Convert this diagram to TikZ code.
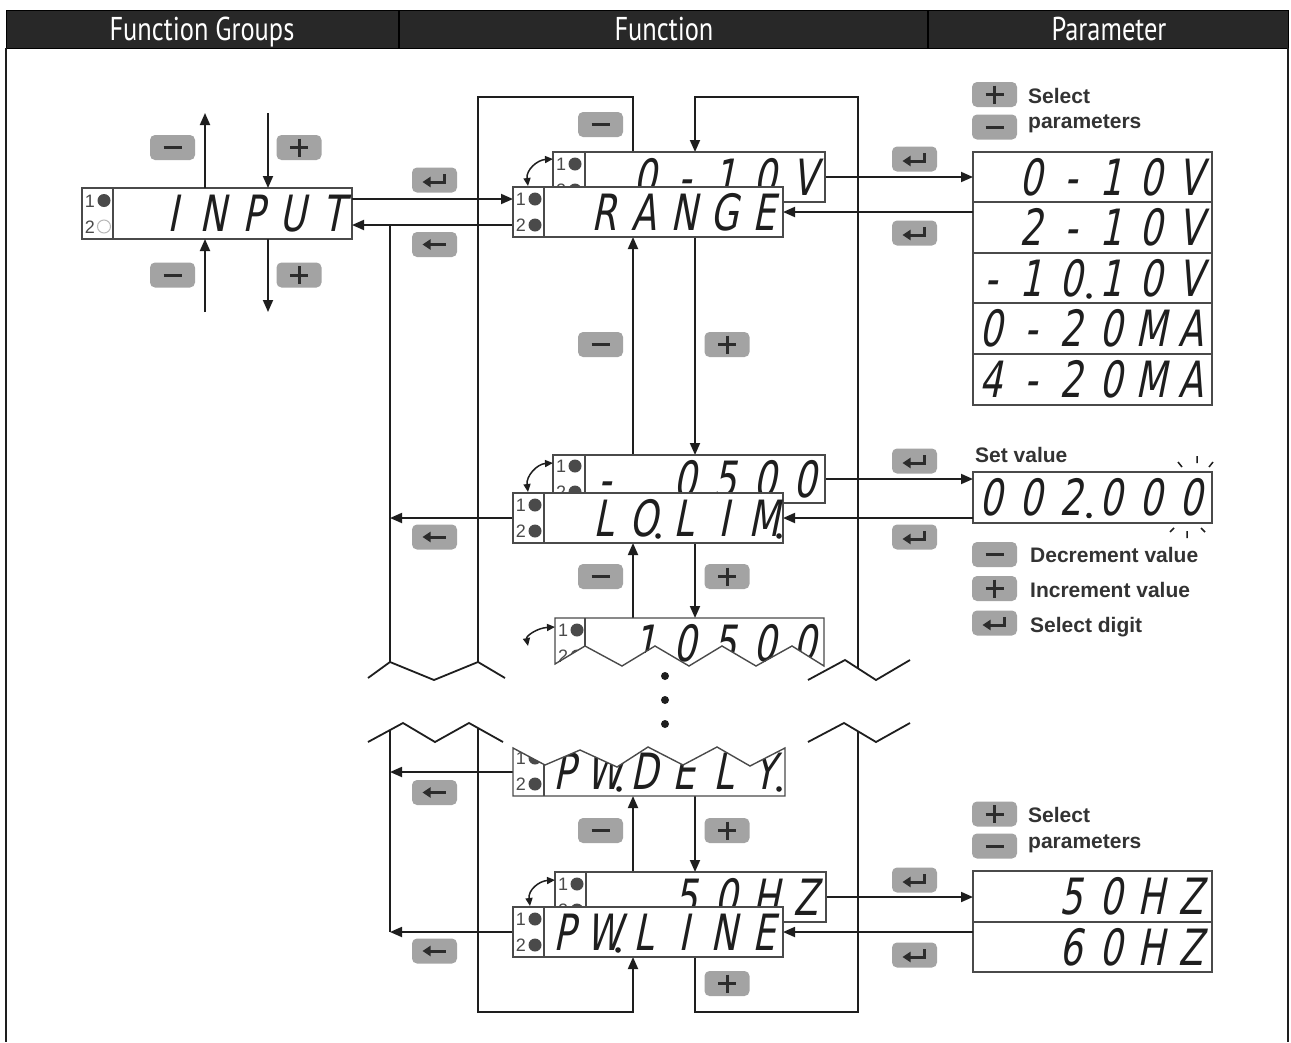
\documentclass[tikz,border=0pt]{standalone}
\usepackage{fontspec}
\setmainfont{Liberation Sans}
\newfontfamily\lcdf{DejaVu Sans}[FakeSlant=0.2,FakeStretch=0.72]
\newfontfamily\hdrf{PT Sans}[FakeStretch=0.8]
\usetikzlibrary{arrows.meta}
\definecolor{hdrc}{HTML}{282828}
\definecolor{btnc}{HTML}{A3A3A3}
\definecolor{ink}{HTML}{1E1E1E}
\definecolor{boxc}{HTML}{4A4A4A}
\definecolor{txtc}{HTML}{333333}
\definecolor{symc}{HTML}{2C2C2C}
\newcommand\btnminus[3]{\node[btnbox] (#1) at (#2,#3) {};\draw[sym] ({#2-9},#3) -- ({#2+9},#3);}
\newcommand\btnplus[3]{\node[btnbox] (#1) at (#2,#3) {};\draw[sym] ({#2-9},#3) -- ({#2+9},#3) ({#2},{#3-9}) -- ({#2},{#3+9});}
\newcommand\btnret[3]{\node[btnbox] (#1) at (#2,#3) {};\draw[symarr] ({#2+10},{#3-6}) -- ({#2+10},{#3+2}) -- ({#2-12},{#3+2});}
\newcommand\btnback[3]{\node[btnbox] (#1) at (#2,#3) {};\draw[symarr] ({#2+11},#3) -- ({#2-12},#3);}
\newcommand\lcdtext[4]{\foreach \c [count=\i] in {#4}{\node[lcdch] (#1\i) at ({#2+(\i-1)*40},{#3+18}) {\c};}}
\newcommand\lcddot[2]{\fill[ink] (#1,#2) circle (2.8pt);}
\newcommand\indic[4]{%
  \node[indt] (#1a) at ({#2+8},{#3-6.5}) {1};
  \fill[boxc] ({#2+22},{#3-13}) circle (6.5pt);
  \node[indt] (#1b) at ({#2+8},{#3+19.5}) {2};
  \path[#4] ({#2+22},{#3+13}) circle (6.5pt);}
\begin{document}
\begin{tikzpicture}[x=1pt,y=-1pt,
  conn/.style={draw=ink,line width=1.8pt},
  arr/.style={conn,-{Triangle[length=12pt,width=10pt]}},
  carr/.style={draw=ink,line width=1.5pt,{Triangle[length=8pt,width=7pt]}-{Triangle[length=8pt,width=7pt]}},
  lcdbox/.style={draw=boxc,line width=1.4pt,fill=white,inner sep=0pt,outer sep=0pt},
  boxline/.style={draw=boxc,line width=1.4pt},
  btnbox/.style={fill=btnc,rounded corners=5pt,minimum width=45pt,minimum height=25pt,inner sep=0pt,draw=none},
  sym/.style={draw=symc,line width=3pt},
  symarr/.style={sym,-{Triangle[length=8pt,width=10pt]}},
  lcdch/.style={font=\lcdf\fontsize{50}{50}\selectfont,anchor=base,inner sep=0pt,text=ink},
  indt/.style={font=\fontsize{18}{18}\selectfont,text=boxc,anchor=base,inner sep=0pt},
  lbl/.style={font=\bfseries\fontsize{21}{21}\selectfont,text=txtc,anchor=base west,inner sep=0pt},
  hdrt/.style={font=\hdrf\fontsize{33}{33}\selectfont,text=white,anchor=base,inner sep=0pt}]
\useasboundingbox (0,0) rectangle (1291,1042);
\fill[white] (0,0) rectangle (1291,1042);
% header and frame
\fill[hdrc] (6,10) rectangle (1288,48);
\draw[black,line width=1pt] (6,10) rectangle (1288,48);
\draw[black,line width=1.2pt] (399,10) -- (399,48) (928,10) -- (928,48);
\draw[ink,line width=1.5pt] (6,48) -- (6,1042) (1288,48) -- (1288,1042);
\node[hdrt] (h1) at (202,40) {Function Groups};
\node[hdrt] (h2) at (664,40) {Function};
\node[hdrt] (h3) at (1109,40) {Parameter};
% column coordinates
\coordinate (cM) at (633,0); \coordinate (cP) at (695,0);
\coordinate (cL) at (478,0); \coordinate (cR) at (858,0);
\coordinate (cB) at (390,0);
\coordinate (topY) at (0,97); \coordinate (botY) at (0,1012);
\coordinate (iM) at (205,0); \coordinate (iP) at (268,0);
\coordinate (iMt) at (205,113); \coordinate (iPt) at (268,113);
\coordinate (iMb) at (205,312); \coordinate (iPb) at (268,312);
% boxes (nodes)
\node[lcdbox,minimum width=270pt,minimum height=51pt] (inp) at (217,213.5) {};
\node[lcdbox,minimum width=272pt,minimum height=50pt] (rngp) at (689,177) {};
\node[lcdbox,minimum width=270pt,minimum height=50pt] (rng) at (648,212) {};
\node[lcdbox,minimum width=272pt,minimum height=48pt] (llp) at (689,479) {};
\node[lcdbox,minimum width=270pt,minimum height=50pt] (lol) at (648,518) {};
\node[lcdbox,minimum width=271pt,minimum height=50pt] (pwlp) at (690.5,897) {};
\node[lcdbox,minimum width=270pt,minimum height=50pt] (pwl) at (648,932) {};
\node[lcdbox,minimum width=239pt,minimum height=253pt] (par1) at (1092.5,278.5) {};
\node[lcdbox,minimum width=239pt,minimum height=51pt] (setv) at (1092.5,497.5) {};
\node[lcdbox,minimum width=239pt,minimum height=101pt] (par2) at (1092.5,921.5) {};
\coordinate (q10) at (689,618);
\coordinate (pdB) at (649,796);
\coordinate (pdL) at (513,772);
\coordinate (rngIn) at (513,199);
\coordinate (rngOut) at (513,225);
% zigzag junctions
\coordinate (zL1) at (478,662); \coordinate (zL2) at (478,728);
\coordinate (zB1) at (390,662); \coordinate (zB2) at (390,730);
\coordinate (zR1) at (858,668); \coordinate (zR2) at (858,731);
% connectors: loops
\draw[conn] (rngp.north -| cM) -- (cM |- topY) -- (cL |- topY) -- (zL1);
\draw[arr] (zL2) -- (cL |- botY) -- (cM |- botY) -- (pwl.south -| cM);
\draw[conn] (pwl.south -| cP) -- (cP |- botY) -- (cR |- botY) -- (zR2);
\draw[arr] (zR1) -- (cR |- topY) -- (cP |- topY) -- (rngp.north -| cP);
% bus to INPUT
\draw[arr] (inp.east |- rngIn) -- (rngIn);
\draw[arr] (rngOut) -- (inp.east |- rngOut);
\draw[conn] (rngOut -| cB) -- (zB1);
\draw[conn] (zB2) -- (pwl.west -| cB);
\draw[arr] (lol.west) -- (lol.west -| cB);
\draw[arr] (pdL) -- (pdL -| cB);
\draw[arr] (pwl.west) -- (pwl.west -| cB);
% INPUT arrows
\draw[arr] (inp.north -| iM) -- (iMt);
\draw[arr] (iPt) -- (inp.north -| iP);
\draw[arr] (iMb) -- (inp.south -| iM);
\draw[arr] (inp.south -| iP) -- (iPb);
% vertical function arrows
\draw[arr] (llp.north -| cM) -- (rng.south -| cM);
\draw[arr] (rng.south -| cP) -- (llp.north -| cP);
\draw[arr] (q10 -| cM) -- (lol.south -| cM);
\draw[arr] (lol.south -| cP) -- (q10 -| cP);
\draw[arr] (pwlp.north -| cM) -- (pdB -| cM);
\draw[arr] (pdB -| cP) -- (pwlp.north -| cP);
% right connections
\draw[arr] (rngp.east) -- (rngp.east -| par1.west);
\draw[arr] (par1.west |- rng.east) -- (rng.east);
\draw[arr] (llp.east) -- (llp.east -| setv.west);
\draw[arr] (setv.west |- lol.east) -- (lol.east);
\draw[arr] (pwlp.east) -- (pwlp.east -| par2.west);
\draw[arr] (par2.west |- pwl.east) -- (pwl.east);
% zigzag breaks
\draw[conn] (368,678) -- (zB1) -- (434,680) -- (zL1) -- (505,678);
\draw[conn] (368,742) -- (403,723) -- (435,742) -- (469,723) -- (503,742);
\draw[conn] (808,680) -- (845,660) -- (876,680) -- (910,660);
\draw[conn] (808,742) -- (844,723) -- (876,742) -- (910,723);
\fill[ink] (665,676) circle (4pt) (665,700) circle (4pt) (665,724) circle (4pt);
% ---- displays ----
% INPUT
\draw[boxline] (113,188) -- (113,239);
\indic{inpi}{82}{213.5}{draw=gray!55,fill=white,line width=1pt}
\lcdtext{inpt}{133}{213.5}{{},I,N,P,U,T}
% RANGE sub box and main
\node[lcdbox,minimum width=272pt,minimum height=50pt] (rngp2) at (689,177) {};
\draw[boxline] (585,152) -- (585,202);
\indic{rpi}{553}{177}{fill=boxc}
\lcdtext{rpt}{605}{177}{{},0,-,1,0,V}
\node[lcdbox,minimum width=270pt,minimum height=50pt] (rng2) at (648,212) {};
\draw[boxline] (544,187) -- (544,237);
\indic{rgi}{513}{212}{fill=boxc}
\lcdtext{rgt}{564}{212}{{},R,A,N,G,E}
% LO.LIM
\node[lcdbox,minimum width=272pt,minimum height=48pt] (llp2) at (689,479) {};
\draw[boxline] (585,455) -- (585,503);
\indic{lpi}{553}{479}{fill=boxc}
\lcdtext{lpt}{605}{479}{-,{},0,5,0,0}
\node[lcdbox,minimum width=270pt,minimum height=50pt] (lol2) at (648,518) {};
\draw[boxline] (544,493) -- (544,543);
\indic{lli}{513}{518}{fill=boxc}
\lcdtext{llt}{564}{518}{{},L,O,L,I,M}
\lcddot{658}{536}\lcddot{779}{536}
% 10500 partial box
\begin{scope}
  \clip (555,618) -- (824,618) -- (824,666) -- (792,646) -- (756,666) -- (722,646) -- (689,666) -- (655,646) -- (622,666) -- (585,646) -- (555,664) -- cycle;
  \fill[white] (550,610) rectangle (830,670);
  \lcdtext{tqt}{605}{643}{{},1,0,5,0,0}
  \indic{tqi}{555}{643}{fill=boxc}
\end{scope}
\draw[boxline] (555,618) -- (824,618) -- (824,666) -- (792,646) -- (756,666) -- (722,646) -- (689,666) -- (655,646) -- (622,666) -- (585,646) -- (555,664) -- cycle;
\draw[boxline] (585,618) -- (585,646);
% PW.DELY partial box
\begin{scope}
  \clip (513,748) -- (545,765) -- (580,750) -- (617,767) -- (648,747) -- (683,765) -- (717,747) -- (750,766) -- (785,748) -- (785,796) -- (513,796) -- cycle;
  \fill[white] (505,740) rectangle (790,800);
  \lcdtext{pdt}{564}{771}{P,W,D,E,L,Y}
  \indic{pdi}{513}{771}{fill=boxc}
\end{scope}
\draw[boxline] (513,748) -- (545,765) -- (580,750) -- (617,767) -- (648,747) -- (683,765) -- (717,747) -- (750,766) -- (785,748) -- (785,796) -- (513,796) -- cycle;
\draw[boxline] (544,765) -- (544,796);
\lcddot{619}{789}\lcddot{779}{789}
% PW.LINE
\node[lcdbox,minimum width=271pt,minimum height=50pt] (pwlp2) at (690.5,897) {};
\draw[boxline] (586,872) -- (586,922);
\indic{wpi}{555}{897}{fill=boxc}
\lcdtext{wpt}{606}{897}{{},{},5,0,H,Z}
\node[lcdbox,minimum width=270pt,minimum height=50pt] (pwl2) at (648,932) {};
\draw[boxline] (544,907) -- (544,957);
\indic{wli}{513}{932}{fill=boxc}
\lcdtext{wlt}{564}{932}{P,W,L,I,N,E}
\lcddot{618}{950}
% curved double arrows
\draw[carr] (528,186) .. controls (526,170) and (537,160) .. (553,159);
\draw[carr] (528,492) .. controls (526,476) and (537,464) .. (553,463);
\draw[carr] (528,646) .. controls (526,636) and (537,628) .. (555,627);
\draw[carr] (530,906) .. controls (528,890) and (539,881) .. (555,880);
% parameter list (top)
\draw[boxline] (973,202) -- (1212,202) (973,253) -- (1212,253) (973,303) -- (1212,303) (973,354) -- (1212,354);
\lcdtext{p1}{991}{177}{{},0,-,1,0,V}
\lcdtext{p2}{991}{227.5}{{},2,-,1,0,V}
\lcdtext{p3}{991}{278}{-,1,0,1,0,V}
\lcddot{1089}{296}
\lcdtext{p4}{991}{328.5}{0,-,2,0,M,A}
\lcdtext{p5}{991}{379.5}{4,-,2,0,M,A}
% set value
\lcdtext{sv}{991}{497.5}{0,0,2,0,0,0}
\lcddot{1089}{515.5}
\draw[ink,line width=1.5pt] (1178,462) -- (1182,467) (1197,456) -- (1197,463) (1213,462) -- (1209,467)
  (1170,532) -- (1174,528) (1187,531) -- (1187,538) (1205,532) -- (1201,528);
% 50/60 Hz list
\draw[boxline] (973,922) -- (1212,922);
\lcdtext{hz1}{991}{896.5}{{},{},5,0,H,Z}
\lcdtext{hz2}{991}{947}{{},{},6,0,H,Z}
% buttons
\btnminus{bm1}{172.5}{147.5}
\btnplus{bp1}{299}{147.5}
\btnminus{bm2}{172.5}{275}
\btnplus{bp2}{299}{275}
\btnret{be1}{434.5}{180}
\btnback{bb1}{434.5}{244.5}
\btnminus{bm3}{600.5}{124.5}
\btnminus{bm4}{600.5}{344.5}
\btnplus{bp4}{727}{344.5}
\btnminus{bm5}{600.5}{576.5}
\btnplus{bp5}{727}{576.5}
\btnminus{bm6}{600.5}{830.5}
\btnplus{bp6}{727}{830.5}
\btnplus{bp7}{727}{983.5}
\btnback{bb2}{434.5}{537}
\btnback{bb3}{434.5}{792.5}
\btnback{bb4}{434.5}{951}
\btnret{be2}{914.5}{159}
\btnret{be3}{914.5}{233}
\btnret{be4}{914.5}{461}
\btnret{be5}{914.5}{537}
\btnret{be6}{914.5}{880}
\btnret{be7}{914.5}{955}
% legends
\btnplus{lp1}{994.5}{94.5}
\btnminus{lm1}{994.5}{127}
\node[lbl] (t1) at (1028,103) {Select};
\node[lbl] (t2) at (1028,128) {parameters};
\node[lbl] (t3) at (975,462) {Set value};
\btnminus{lm2}{994.5}{554.5}
\btnplus{lp2}{994.5}{588.5}
\btnret{le2}{994.5}{623}
\node[lbl] (t4) at (1030,562) {Decrement value};
\node[lbl] (t5) at (1030,597) {Increment value};
\node[lbl] (t6) at (1030,632) {Select digit};
\btnplus{lp3}{994.5}{814}
\btnminus{lm3}{994.5}{846}
\node[lbl] (t7) at (1028,822) {Select};
\node[lbl] (t8) at (1028,848) {parameters};
\end{tikzpicture}
\end{document}
